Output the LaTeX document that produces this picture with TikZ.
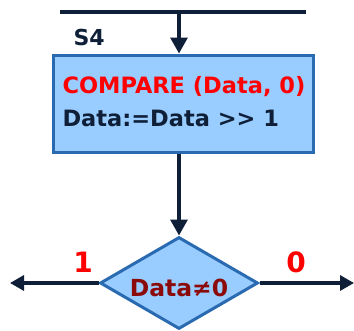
\documentclass[tikz,border=0pt]{standalone}
\usepackage{fontspec}
\setmainfont{DejaVu Sans}
\usetikzlibrary{shapes.geometric,arrows.meta}
\definecolor{boxfill}{HTML}{99CCFF}
\definecolor{boxedge}{HTML}{2A6AB0}
\definecolor{linec}{HTML}{0F1F38}
\definecolor{dred}{HTML}{8B0A0A}
\tikzset{
  flowline/.style={draw=linec, line width=3.2pt},
  flowarrow/.style={flowline, -{Triangle[width=17pt,length=16pt]}},
  sidearrow/.style={flowline, -{Triangle[width=15pt,length=14pt]}},
  procbox/.style={draw=boxedge, fill=boxfill, line width=3pt, minimum width=260pt, minimum height=97pt, inner sep=0pt},
  decision/.style={diamond, draw=boxedge, fill=boxfill, line width=3pt, minimum width=158pt, minimum height=92pt, inner sep=0pt},
  redlbl/.style={text=red, font=\bfseries\fontsize{28}{32}\selectfont},
}
\begin{document}
\begin{tikzpicture}[x=1pt,y=-1pt]
\useasboundingbox (0,0) rectangle (354,330);
\coordinate (busL) at (60,12);
\coordinate (busR) at (306,12);
\coordinate (busM) at (179,12);
\draw[flowline] (busL) -- (busR);
\node[procbox] (box) at (183,103.5) {};
\node[anchor=west, text=red, font=\bfseries\fontsize{22.5}{26}\selectfont] (cmp) at (59,87) {COMPARE (Data, 0)};
\node[anchor=west, text=linec, font=\bfseries\fontsize{22.5}{26}\selectfont] (shf) at (59,118) {Data:=Data >{}> 1};
\node[anchor=west, text=linec, font=\bfseries\fontsize{22}{26}\selectfont] (s4) at (70,37) {S4};
\draw[flowarrow] (busM) -- (busM |- box.north);
\node[decision] (dec) at (179,283) {};
\node[text=dred, font=\bfseries\fontsize{23.5}{27}\selectfont] (dtxt) at (179,288) {Data≠0};
\draw[flowarrow] (box.south -| dec.north) -- (dec.north);
\coordinate (leftend) at (10,283);
\coordinate (rightend) at (354,283);
\draw[sidearrow] (dec.west) -- (leftend);
\draw[sidearrow] (dec.east) -- (rightend);
\node[redlbl] (one) at (83,262) {1};
\node[redlbl] (zero) at (296,262) {0};
\end{tikzpicture}
\end{document}
